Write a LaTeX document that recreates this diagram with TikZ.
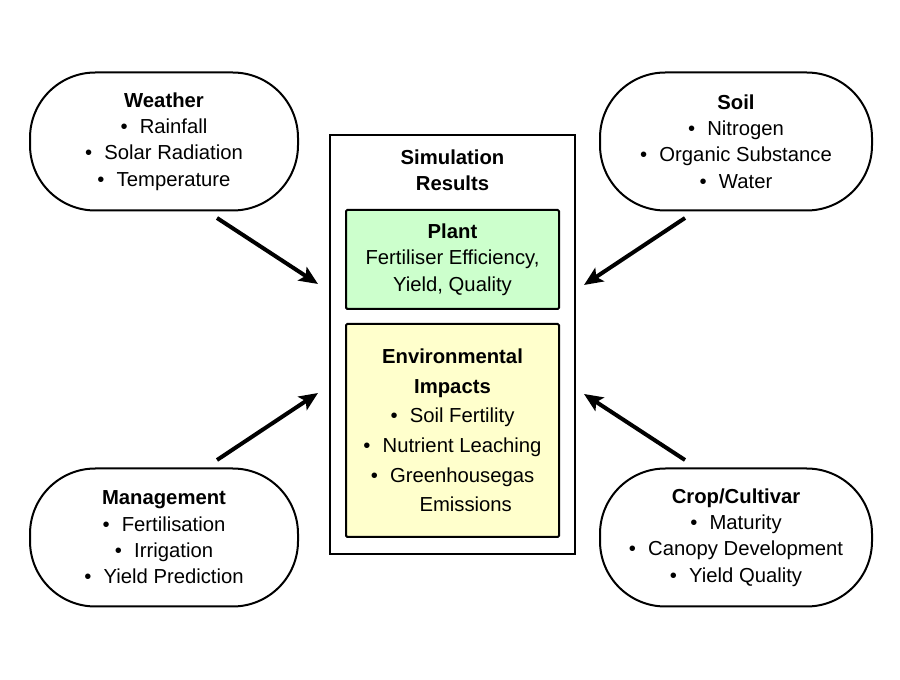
\documentclass[tikz,border=0pt]{standalone}
\usepackage{fontspec}
\setmainfont{Liberation Sans}
\usepackage{xcolor}
\usepackage{tikz}
\usetikzlibrary{arrows.meta, positioning}
\definecolor{plantcolor}{RGB}{204,255,204}
\definecolor{envcolor}{RGB}{255,255,204}

\newcommand{\bul}{\textbullet\hspace{0.6em}}

\begin{document}
\begin{tikzpicture}[
    x=0.75pt, y=-0.75pt,
    factor/.style={draw, line width=1.5pt, rounded corners=49pt, fill=white, minimum height=103.5pt, align=center, font=\fontsize{15.2}{19.8}\selectfont},
    result/.style={draw, line width=1.5pt, rounded corners=1pt, minimum width=159.75pt, align=center},
    arrow/.style={-{Stealth[length=14pt, width=12pt, inset=3pt]}, line width=3pt}
]
    \useasboundingbox (0,0) rectangle (900,680);

    % Outer factors
    \node[factor, minimum width=201pt] (weather) at (164,141.5) {\textbf{Weather}\\\bul Rainfall\\\bul Solar Radiation\\\bul Temperature};
    \node[factor, minimum width=204pt] (soil) at (736,141.5) {\textbf{Soil}\\\bul Nitrogen\\\bul Organic Substance\\\bul Water};
    \node[factor, minimum width=201pt] (management) at (164,537.5) {\textbf{Management}\\\bul Fertilisation\\\bul Irrigation\\\bul Yield Prediction};
    \node[factor, minimum width=204pt] (crop) at (736,537.5) {\textbf{Crop/Cultivar}\\\bul Maturity\\\bul Canopy Development\\\bul Yield Quality};

    % Simulation results
    \node[draw, line width=1.5pt, fill=white, minimum width=183.75pt, minimum height=314.25pt] (sim) at (452.5,344.5) {};
    \node[align=center, font=\bfseries\fontsize{15.2}{19.8}\selectfont] (simtitle) at (452.5,170.5) {Simulation\\Results};
    \node[result, fill=plantcolor, minimum height=74.25pt, font=\fontsize{15.2}{19.8}\selectfont] (plant) at (452.5,259.5) {\textbf{Plant}\\Fertiliser Efficiency,\\Yield, Quality};
    \node[result, fill=envcolor, minimum height=159.75pt, font=\fontsize{15.2}{22.2}\selectfont] (env) at (452.5,430.5) {\textbf{Environmental}\\\textbf{Impacts}\\\bul Soil Fertility\\\bul Nutrient Leaching\\\bul Greenhousegas\\\hspace{1.3em}Emissions};

    % Arrow ends
    \coordinate (w1) at (217,218);
    \coordinate (w2) at (318,284);
    \coordinate (s1) at (685,218);
    \coordinate (s2) at (584,285);
    \coordinate (m1) at (217,460);
    \coordinate (m2) at (318,393);
    \coordinate (c1) at (685,460);
    \coordinate (c2) at (584,394);

    % Connections
    \draw[arrow] (w1) -- (w2);
    \draw[arrow] (s1) -- (s2);
    \draw[arrow] (m1) -- (m2);
    \draw[arrow] (c1) -- (c2);
\end{tikzpicture}
\end{document}
